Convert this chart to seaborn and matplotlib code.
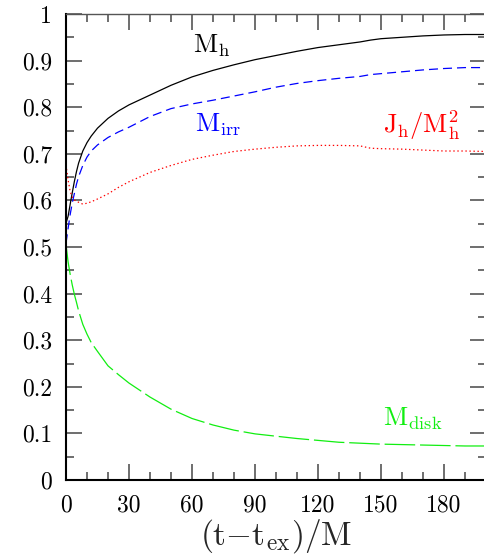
import matplotlib
matplotlib.use("Agg")
import matplotlib.pyplot as plt
from matplotlib.ticker import MultipleLocator, FuncFormatter
import seaborn as sns
import pandas as pd

# ---- data ----
t = [0, 1, 2, 3, 4, 5, 6, 8, 10, 12, 15, 20, 25, 30, 40, 50, 60, 70, 80, 90,
     100, 110, 120, 130, 140, 145, 150, 160, 170, 180, 190, 200]
m_h = [0.551, 0.566, 0.592, 0.617, 0.641, 0.662, 0.680, 0.706, 0.724, 0.738, 0.755,
       0.776, 0.792, 0.805, 0.826, 0.847, 0.865, 0.879, 0.891, 0.902, 0.911, 0.920,
       0.928, 0.934, 0.940, 0.944, 0.947, 0.950, 0.953, 0.955, 0.956, 0.956]
m_irr = [0.508, 0.540, 0.570, 0.595, 0.615, 0.635, 0.651, 0.675, 0.693, 0.706, 0.719,
         0.735, 0.747, 0.757, 0.780, 0.797, 0.807, 0.815, 0.824, 0.833, 0.843, 0.851,
         0.857, 0.862, 0.866, 0.870, 0.872, 0.876, 0.880, 0.883, 0.885, 0.885]
j_over_m2 = [0.676, 0.644, 0.619, 0.607, 0.601, 0.598, 0.596, 0.592, 0.594, 0.597, 0.603,
             0.614, 0.628, 0.640, 0.660, 0.675, 0.688, 0.697, 0.705, 0.710, 0.714, 0.717,
             0.718, 0.718, 0.717, 0.712, 0.711, 0.710, 0.708, 0.706, 0.706, 0.705]
m_disk = [0.505, 0.468, 0.441, 0.418, 0.398, 0.381, 0.363, 0.334, 0.313, 0.295, 0.276,
          0.245, 0.226, 0.208, 0.178, 0.152, 0.132, 0.118, 0.107, 0.099, 0.094, 0.089,
          0.085, 0.081, 0.079, 0.078, 0.077, 0.076, 0.075, 0.074, 0.073, 0.073]

labels = [r'$\mathrm{M_h}$', r'$\mathrm{M_{irr}}$', r'$\mathrm{J_h/M_h^2}$', r'$\mathrm{M_{disk}}$']
x_label = r'$\mathrm{(t{-}t_{ex})/M}$'

df = pd.DataFrame({"t": t, "m_h": m_h, "m_irr": m_irr, "j": j_over_m2, "m_disk": m_disk})

sns.set_style("ticks")
plt.rcParams['font.family'] = ['cmr10', 'DejaVu Serif']
plt.rcParams['mathtext.fontset'] = 'cm'
plt.rcParams['axes.formatter.use_mathtext'] = True
plt.rcParams['lines.scale_dashes'] = False

fig = plt.figure(figsize=(4.84, 5.54), dpi=100)
ax = fig.add_axes([66 / 484, 74 / 554, 420 / 484, 466 / 554])

green = '#11ee11'
styles = [
    ("m_h", 'black', None),
    ("m_irr", 'blue', (6.5, 3.6)),
    ("j", 'red', (1.0, 1.9)),
    ("m_disk", green, (22, 3.5)),
]
for col, color, dashes in styles:
    sns.lineplot(data=df, x="t", y=col, color=color, lw=0.9, ax=ax)
    line = ax.lines[-1]
    if dashes is not None:
        line.set_dashes(dashes)

ax.set_xlim(0, 200)
ax.set_ylim(0, 1)
ax.xaxis.set_major_locator(MultipleLocator(30))
ax.xaxis.set_minor_locator(MultipleLocator(10))
ax.yaxis.set_major_locator(MultipleLocator(0.1))
ax.yaxis.set_minor_locator(MultipleLocator(0.05))
fmt = FuncFormatter(lambda v, p: f"{v:g}")
ax.xaxis.set_major_formatter(fmt)
ax.yaxis.set_major_formatter(fmt)

ax.tick_params(which='both', direction='in', top=True, right=True,
               color='#555555', width=1.2, labelsize=17, labelcolor='black')
ax.tick_params(which='major', length=11.5, pad=10)
ax.tick_params(which='minor', length=6)

for side in ['left', 'bottom']:
    ax.spines[side].set_linewidth(1.5)
    ax.spines[side].set_color('black')
for side in ['top', 'right']:
    ax.spines[side].set_linewidth(1.0)
    ax.spines[side].set_color('#555555')

ax.set_ylabel('')
ax.set_xlabel(x_label, fontsize=24, labelpad=1)

ax.text(60.5, 0.917, labels[0], color='black', fontsize=19, va='baseline')
ax.text(61.4, 0.747, labels[1], color='blue', fontsize=19, va='baseline')
ax.text(151, 0.745, labels[2], color='red', fontsize=19, va='baseline')
ax.text(151, 0.118, labels[3], color=green, fontsize=19, va='baseline')

fig.savefig("out.png", dpi=100)
